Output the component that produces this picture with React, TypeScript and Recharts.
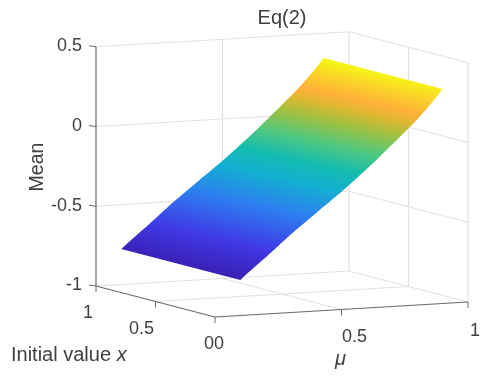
import React from "react";
import { ScatterChart, Scatter, XAxis, YAxis } from "recharts";

const W = 495;
const H = 386;

const muValues = [0.1,0.12,0.14,0.16,0.18,0.2,0.22,0.24,0.26,0.28,0.3,0.32,0.34,0.36,0.38,0.4,0.42,0.44,0.46,0.48,0.5,0.52,0.54,0.56,0.58,0.6,0.62,0.64,0.66,0.68,0.7,0.72,0.74,0.76,0.78,0.8,0.82,0.84,0.86,0.88,0.9];
const meanValues = [-0.777,-0.75,-0.723,-0.697,-0.671,-0.645,-0.618,-0.591,-0.564,-0.537,-0.51,-0.485,-0.46,-0.435,-0.41,-0.385,-0.36,-0.336,-0.311,-0.287,-0.262,-0.236,-0.209,-0.182,-0.155,-0.128,-0.1,-0.072,-0.043,-0.014,0.015,0.044,0.074,0.104,0.134,0.165,0.198,0.233,0.269,0.306,0.345];

const meanTicks = [0.5, 0, -0.5, -1];
const colorMeans = [-0.78,-0.62,-0.42,-0.27,-0.17,-0.06,0.05,0.13,0.18,0.27,0.345];
const colorStops = ["#3a20b4","#4038e6","#2d7ff0","#12b0d0","#14bcb0","#50c880","#a0c040","#e0b830","#ffb038","#fad428","#f6f616"];

const project = (mu: number, x: number, z: number) => ({
  px: 215 + 253 * mu - 119 * x,
  py: 317 - 15 * mu - 31 * x - (z + 1) * 159.5,
});

// Colour-band direction on the page: along the iso-lines of the surface colour.
const isoLen = Math.hypot(119, 27);
const nx = 27 / isoLen;
const ny = -119 / isoLen;

const farEdge = muValues.map((mu, i) => project(mu, 0, meanValues[i]));
const nearEdge = muValues.map((mu, i) => project(mu, 1, meanValues[i]));
const anchor = farEdge[0];
const outline = [...farEdge, ...nearEdge.slice().reverse()].map((c) => [c.px - anchor.px, c.py - anchor.py]);

const along = (dx: number, dy: number) => dx * nx + dy * ny;
const meanPos = (z: number) => {
  let i = 0;
  while (i < meanValues.length - 2 && z > meanValues[i + 1]) i++;
  const t = (z - meanValues[i]) / (meanValues[i + 1] - meanValues[i]);
  const mu = muValues[i] + (muValues[i + 1] - muValues[i]) * t;
  const p = project(mu, 0.5, z);
  return along(p.px - anchor.px, p.py - anchor.py);
};
const posStart = meanPos(colorMeans[0]);
const posEnd = meanPos(colorMeans[colorMeans.length - 1]);
const stops = colorMeans.map((z, i) => ({
  offset: (meanPos(z) - posStart) / (posEnd - posStart),
  color: colorStops[i],
}));

const Surface = (p: any) => {
  const { cx, cy } = p;
  const pts = outline.map((c) => `${cx + c[0]},${cy + c[1]}`).join(" ");
  return (
    <g>
      <defs>
        <linearGradient
          id="meanGrad"
          gradientUnits="userSpaceOnUse"
          x1={cx + nx * posStart}
          y1={cy + ny * posStart}
          x2={cx + nx * posEnd}
          y2={cy + ny * posEnd}
        >
          {stops.map((s, i) => (
            <stop key={i} offset={s.offset} stopColor={s.color} />
          ))}
        </linearGradient>
      </defs>
      <polygon points={pts} fill="url(#meanGrad)" />
    </g>
  );
};

const seg = (a: number[], b: number[]) => [project(a[0], a[1], a[2]), project(b[0], b[1], b[2])];

const gridLines: { px: number; py: number }[][] = [
  seg([0, 1, 0.5], [1, 1, 0.5]),
  ...meanTicks.slice(1, 3).flatMap((z) => [seg([0, 1, z], [1, 1, z]), seg([1, 1, z], [1, 0, z])]),
  seg([1, 0, -1], [1, 0, 0.5]),
  seg([1, 1, -1], [1, 1, 0.5]),
  seg([1, 1, 0.5], [1, 0, 0.5]),
  seg([0.5, 1, -1], [0.5, 1, 0.5]),
  seg([1, 0.5, -1], [1, 0.5, 0.5]),
  seg([0.5, 0, -1], [0.5, 1, -1]),
  seg([0, 0.5, -1], [1, 0.5, -1]),
  seg([0, 1, -1], [1, 1, -1]),
  seg([1, 1, -1], [1, 0, -1]),
];

const axisLines = [
  seg([0, 1, -1], [0, 1, 0.5]),
  seg([0, 1, -1], [0, 0, -1]),
  seg([0, 0, -1], [1, 0, -1]),
];
const tickMarks = [
  ...meanTicks.map((z) => {
    const p = project(0, 1, z);
    return [p, { px: p.px - 7, py: p.py - 1 }];
  }),
  ...[0, 0.5, 1].map((x) => {
    const p = project(0, x, -1);
    return [p, { px: p.px, py: p.py + 6 }];
  }),
  ...[0.5, 1].map((mu) => {
    const p = project(mu, 0, -1);
    return [p, { px: p.px, py: p.py + 6 }];
  }),
];

const labels: any[] = [
  { px: 82, py: 51, text: "0.5", anchor: "end" },
  { px: 82, py: 131, text: "0", anchor: "end" },
  { px: 82, py: 211, text: "-0.5", anchor: "end" },
  { px: 82, py: 290, text: "-1", anchor: "end" },
  { px: 83, py: 318, text: "1" },
  { px: 129, py: 334, text: "0.5" },
  { px: 204, py: 349, text: "00" },
  { px: 342, py: 342, text: "0.5" },
  { px: 470, py: 336, text: "1" },
  { px: 282, py: 24, text: "Eq(2)", anchor: "middle", size: 20 },
  { px: 43, py: 167, text: "Mean", anchor: "middle", size: 19.5, rotate: true },
  { px: 11, py: 361, text: "Initial value ", italic: "x", size: 20 },
  { px: 335, py: 365, text: "", italic: "\u03bc", size: 20 },
];

const Label = (p: any) => {
  const { cx, cy, payload: l } = p;
  return (
    <text
      x={cx}
      y={cy}
      textAnchor={l.anchor || "start"}
      fontFamily="Liberation Sans, Arial, sans-serif"
      fontSize={l.size || 18}
      fill="#404040"
      transform={l.rotate ? `rotate(-90 ${cx} ${cy})` : undefined}
    >
      {l.text}
      {l.italic ? <tspan fontStyle="italic">{l.italic}</tspan> : null}
    </text>
  );
};

const None = () => null;

export default function App() {
  return (
    <div style={{ position: "absolute", left: 0, top: 0, width: W, height: H, filter: "blur(0.45px)" }}>
      <ScatterChart width={W} height={H} margin={{ top: 0, right: 0, bottom: 0, left: 0 }}>
        <XAxis type="number" dataKey="px" domain={[0, W]} hide />
        <YAxis type="number" dataKey="py" domain={[0, H]} reversed hide />
        {gridLines.map((d, i) => (
          <Scatter key={`g${i}`} data={d} line={{ stroke: "#e2e2e2", strokeWidth: 1.2 }} shape={None} isAnimationActive={false} />
        ))}
        <Scatter data={[anchor]} shape={Surface} isAnimationActive={false} />
        {axisLines.map((d, i) => (
          <Scatter key={`a${i}`} data={d} line={{ stroke: "#6a6a6a", strokeWidth: 1.2 }} shape={None} isAnimationActive={false} />
        ))}
        {tickMarks.map((d, i) => (
          <Scatter key={`t${i}`} data={d} line={{ stroke: "#6a6a6a", strokeWidth: 1 }} shape={None} isAnimationActive={false} />
        ))}
        <Scatter data={labels} shape={Label} isAnimationActive={false} />
      </ScatterChart>
    </div>
  );
}
